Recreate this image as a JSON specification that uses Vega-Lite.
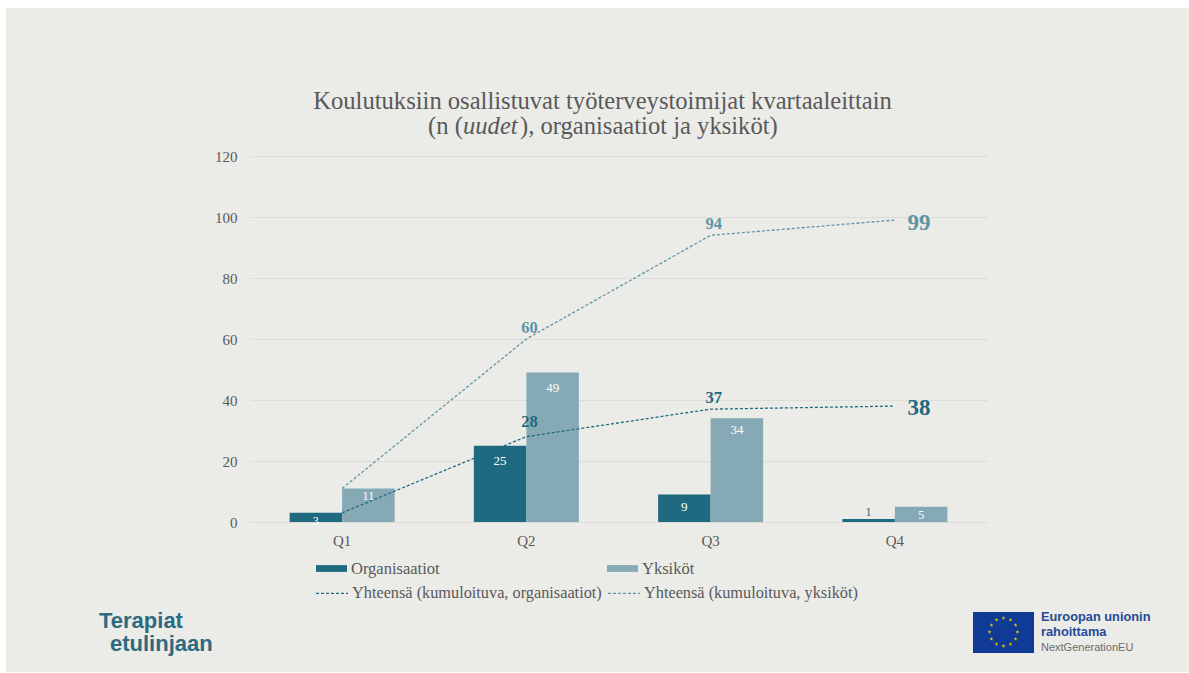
{
"$schema":"https://vega.github.io/schema/vega-lite/v6.json",
"width":737,"height":366,
"autosize":{"type":"none"},
"padding":{"left":250,"top":156,"right":202,"bottom":151},
"background":"#ebebe7",
"title":{"text":"Koulutuksiin osallistuvat työterveystoimijat kvartaaleittain","font":"Liberation Serif","fontSize":24.6,"fontWeight":"normal","color":"#595959","anchor":"middle","dx":-16,"offset":0,"dy":115},
"config":{"view":{"stroke":null},"font":"Liberation Serif"},
"datasets":{
"bars":[
{"quarter":"Q1","series":"Organisaatiot","value":3},
{"quarter":"Q1","series":"Yksiköt","value":11},
{"quarter":"Q2","series":"Organisaatiot","value":25},
{"quarter":"Q2","series":"Yksiköt","value":49},
{"quarter":"Q3","series":"Organisaatiot","value":9},
{"quarter":"Q3","series":"Yksiköt","value":34},
{"quarter":"Q4","series":"Organisaatiot","value":1},
{"quarter":"Q4","series":"Yksiköt","value":5}],
"lines":[
{"quarter":"Q1","series":"Yhteensä (kumuloituva, organisaatiot)","value":3},
{"quarter":"Q2","series":"Yhteensä (kumuloituva, organisaatiot)","value":28},
{"quarter":"Q3","series":"Yhteensä (kumuloituva, organisaatiot)","value":37},
{"quarter":"Q4","series":"Yhteensä (kumuloituva, organisaatiot)","value":38},
{"quarter":"Q1","series":"Yhteensä (kumuloituva, yksiköt)","value":11},
{"quarter":"Q2","series":"Yhteensä (kumuloituva, yksiköt)","value":60},
{"quarter":"Q3","series":"Yhteensä (kumuloituva, yksiköt)","value":94},
{"quarter":"Q4","series":"Yhteensä (kumuloituva, yksiköt)","value":99}],
"one":[{}]
},
"encoding":{
"x":{"field":"quarter","type":"nominal","scale":{"paddingInner":0.43,"paddingOuter":0.215},"axis":{"title":null,"labelAngle":0,"labelFontSize":15,"labelColor":"#595959","labelPadding":11,"ticks":false,"domainColor":"#dcdcd8","grid":false}},
"y":{"field":"value","type":"quantitative","scale":{"domain":[0,120],"nice":false},"axis":{"title":null,"values":[0,20,40,60,80,100,120],"labelFontSize":15,"labelColor":"#595959","labelPadding":13,"ticks":false,"domain":false,"grid":true,"gridColor":"#dcdcd8"}}
},
"layer":[
{"data":{"name":"bars"},"mark":{"type":"bar"},"encoding":{
"xOffset":{"field":"series","sort":["Organisaatiot","Yksiköt"]},
"fill":{"field":"series","type":"nominal","scale":{"domain":["Organisaatiot","Yksiköt"],"range":["#1f6a80","#85aab5"]},"legend":{"title":null,"orient":"none","legendX":66,"legendY":397,"columns":2,"columnPadding":167,"symbolType":"M-1,-0.22H1V0.22H-1Z","symbolSize":961,"labelFontSize":16.5,"labelColor":"#595959","labelOffset":4,"symbolStrokeWidth":0}}
}},
{"data":{"name":"lines"},"mark":{"type":"line","strokeDash":[3,2],"strokeWidth":1.3},"encoding":{
"stroke":{"field":"series","type":"nominal","scale":{"domain":["Yhteensä (kumuloituva, organisaatiot)","Yhteensä (kumuloituva, yksiköt)"],"range":["#1f6a80","#5f95a7"]},"legend":{"title":null,"orient":"none","legendX":65,"legendY":420,"columns":2,"columnPadding":3,"symbolType":"stroke","symbolSize":1024,"symbolDash":[3,2],"symbolStrokeWidth":1.3,"labelFontSize":16.3,"labelLimit":320,"labelColor":"#595959","labelOffset":3}}
}},
{"data":{"name":"bars"},"transform":[{"filter":"datum.value==25||datum.value==49"}],"mark":{"type":"text","dy":15,"fontSize":13,"color":"#ffffff"},"encoding":{"xOffset":{"field":"series","sort":["Organisaatiot","Yksiköt"]},"text":{"field":"value"}}},
{"data":{"name":"bars"},"transform":[{"filter":"datum.value==9||datum.value==34"}],"mark":{"type":"text","dy":12,"fontSize":13,"color":"#ffffff"},"encoding":{"xOffset":{"field":"series","sort":["Organisaatiot","Yksiköt"]},"text":{"field":"value"}}},
{"data":{"name":"bars"},"transform":[{"filter":"datum.value==3||datum.value==11||datum.value==5"}],"mark":{"type":"text","dy":8,"fontSize":12,"color":"#ffffff"},"encoding":{"xOffset":{"field":"series","sort":["Organisaatiot","Yksiköt"]},"text":{"field":"value"}}},
{"data":{"name":"bars"},"transform":[{"filter":"datum.value==1"}],"mark":{"type":"text","dy":-7,"fontSize":12,"color":"#1f6a80"},"encoding":{"xOffset":{"field":"series","sort":["Organisaatiot","Yksiköt"]},"text":{"field":"value"}}},
{"data":{"name":"lines"},"transform":[{"filter":"datum.value==60||datum.value==94"}],"mark":{"type":"text","dx":3,"dy":-11,"fontSize":16.5,"fontWeight":"bold","color":"#5f95a7"},"encoding":{"text":{"field":"value"}}},
{"data":{"name":"lines"},"transform":[{"filter":"datum.value==37"}],"mark":{"type":"text","dx":3,"dy":-11,"fontSize":16.5,"fontWeight":"bold","color":"#1f6a80"},"encoding":{"text":{"field":"value"}}},
{"data":{"name":"lines"},"transform":[{"filter":"datum.value==28"}],"mark":{"type":"text","dx":3,"dy":-15,"fontSize":16.5,"fontWeight":"bold","color":"#1f6a80"},"encoding":{"text":{"field":"value"}}},
{"data":{"name":"lines"},"transform":[{"filter":"datum.value==38"}],"mark":{"type":"text","dx":24,"dy":2,"fontSize":23,"fontWeight":"bold","color":"#1f6a80"},"encoding":{"text":{"field":"value"}}},
{"data":{"name":"lines"},"transform":[{"filter":"datum.value==99"}],"mark":{"type":"text","dx":24,"dy":3,"fontSize":23,"fontWeight":"bold","color":"#5f95a7"},"encoding":{"text":{"field":"value"}}},
{"data":{"name":"one"},"mark":{"type":"text","text":"(n (","align":"left","fontSize":24.6,"color":"#595959"},"encoding":{"x":{"value":178},"y":{"value":-29}}},
{"data":{"name":"one"},"mark":{"type":"text","text":"uudet","align":"left","fontSize":24.6,"fontStyle":"italic","color":"#595959"},"encoding":{"x":{"value":213},"y":{"value":-29}}},
{"data":{"name":"one"},"mark":{"type":"text","text":"), organisaatiot ja yksiköt)","align":"left","fontSize":24.6,"color":"#595959"},"encoding":{"x":{"value":270},"y":{"value":-29}}},
{"data":{"name":"one"},"mark":{"type":"rect","color":"#ffffff"},"encoding":{"x":{"value":-250},"x2":{"value":-244},"y":{"value":-156},"y2":{"value":517}}},
{"data":{"name":"one"},"mark":{"type":"rect","color":"#ffffff"},"encoding":{"x":{"value":-250},"x2":{"value":939},"y":{"value":-156},"y2":{"value":-148}}},
{"data":{"name":"one"},"mark":{"type":"rect","color":"#ffffff"},"encoding":{"x":{"value":-250},"x2":{"value":939},"y":{"value":516},"y2":{"value":517}}},
{"data":{"name":"one"},"mark":{"type":"text","text":"Terapiat","align":"left","font":"Liberation Sans","fontWeight":"bold","fontSize":22,"color":"#2b6a80"},"encoding":{"x":{"value":-151},"y":{"value":465}}},
{"data":{"name":"one"},"mark":{"type":"text","text":"etulinjaan","align":"left","font":"Liberation Sans","fontWeight":"bold","fontSize":22,"color":"#2b6a80"},"encoding":{"x":{"value":-140},"y":{"value":488}}},
{"data":{"name":"one"},"mark":{"type":"rect","color":"#0f3a96"},"encoding":{"x":{"value":723},"x2":{"value":784},"y":{"value":456},"y2":{"value":497}}},
{"data":{"name":"one"},"mark":{"type":"point","filled":true,"opacity":1,"color":"#f2c500","size":900,"shape":"M0,-1.07l.082,.253l-.215,-.156l.266,0l-.215,.156zM.465,-.945l.082,.253l-.215,-.156l.266,0l-.215,.156zM.805,-.605l.082,.253l-.215,-.156l.266,0l-.215,.156zM.93,-.14l.082,.253l-.215,-.156l.266,0l-.215,.156zM.805,.325l.082,.253l-.215,-.156l.266,0l-.215,.156zM.465,.665l.082,.253l-.215,-.156l.266,0l-.215,.156zM0,.79l.082,.253l-.215,-.156l.266,0l-.215,.156zM-.465,.665l.082,.253l-.215,-.156l.266,0l-.215,.156zM-.805,.325l.082,.253l-.215,-.156l.266,0l-.215,.156zM-.93,-.14l.082,.253l-.215,-.156l.266,0l-.215,.156zM-.805,-.605l.082,.253l-.215,-.156l.266,0l-.215,.156zM-.465,-.945l.082,.253l-.215,-.156l.266,0l-.215,.156z"},"encoding":{"x":{"value":753.5},"y":{"value":476}}},
{"data":{"name":"one"},"mark":{"type":"text","text":"Euroopan unionin","align":"left","font":"Liberation Sans","fontWeight":"bold","fontSize":12.8,"color":"#254a96"},"encoding":{"x":{"value":791},"y":{"value":461}}},
{"data":{"name":"one"},"mark":{"type":"text","text":"rahoittama","align":"left","font":"Liberation Sans","fontWeight":"bold","fontSize":12.8,"color":"#254a96"},"encoding":{"x":{"value":791},"y":{"value":476}}},
{"data":{"name":"one"},"mark":{"type":"text","text":"NextGenerationEU","align":"left","font":"Liberation Sans","fontSize":11,"color":"#6b6b6b"},"encoding":{"x":{"value":791},"y":{"value":492}}}
]
}
